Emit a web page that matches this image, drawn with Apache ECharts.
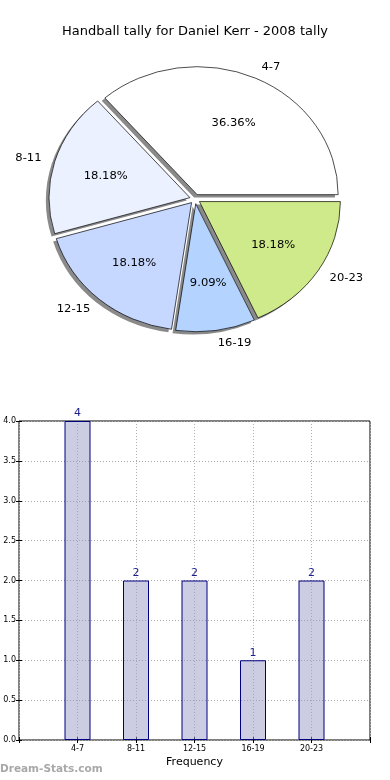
<!DOCTYPE html>
<html>
<head>
<meta charset="utf-8">
<script src="https://cdn.jsdelivr.net/npm/echarts@6/dist/echarts.min.js"></script>
<style>
html,body{margin:0;padding:0;background:#fff;}
#wrap{position:relative;width:390px;height:780px;}
#c{position:absolute;left:0;top:0;width:390px;height:780px;}
#p{position:absolute;left:0;top:0;width:390px;height:400px;transform-origin:195px 199px;transform:scale(1.052,0.955);pointer-events:none;}
</style>
</head>
<body>
<div id="wrap"><div id="c"></div><div id="p"></div></div>
<script>
const titleText = 'Handball tally for Daniel Kerr - 2008 tally';
const categories = ['4-7', '8-11', '12-15', '16-19', '20-23'];
const values = [4, 2, 2, 1, 2];
const pieColors = ['#ffffff', '#ebf1ff', '#c6d8ff', '#b4d4ff', '#cfea8a'];
const yTicks = [0, 0.5, 1, 1.5, 2, 2.5, 3, 3.5, 4];

const FONT = 'DejaVu Sans';
const chart = echarts.init(document.getElementById('c'));
const pieChart = echarts.init(document.getElementById('p'), null, { renderer: 'svg' });

const total = values.reduce((a, b) => a + b, 0);
const R = 134;
const center = [195, 199];
const OFF = 5;

const mk = (withColor) => categories.map((c, i) => {
  const d = { name: c, value: values[i], selected: true };
  if (withColor) d.itemStyle = { color: pieColors[i] };
  return d;
});

const pieCommon = {
  type: 'pie', startAngle: 0, clockwise: false,
  selectedMode: 'multiple', selectedOffset: OFF,
  emphasis: { disabled: true }, silent: true
};

const pieOption = {
  animation: false,
  textStyle: { fontFamily: FONT },
  series: [Object.assign({}, pieCommon, {
    center: [center[0] - 3, center[1] + 3], radius: R,
    data: mk(false),
    itemStyle: { color: '#8a8a8a', borderWidth: 0 },
    label: { show: false }, labelLine: { show: false }
  }), Object.assign({}, pieCommon, {
    center: center, radius: R,
    data: mk(true),
    itemStyle: { borderColor: '#000', borderWidth: 0.7 },
    label: {
      show: true, position: 'outside', formatter: '{b}',
      fontFamily: FONT, fontSize: 11, color: '#000', distanceToLabelLine: 0
    },
    labelLine: { show: false, length: 13, length2: 0 }
  }), Object.assign({}, pieCommon, {
    center: center, radius: R * 1.2,
    data: mk(false),
    itemStyle: { color: 'rgba(0,0,0,0)', borderWidth: 0 },
    label: {
      show: true, position: 'inside',
      formatter: p => (p.value / total * 100).toFixed(2) + '%',
      fontFamily: FONT, fontSize: 11, color: '#000'
    },
    labelLine: { show: false }
  })]
};

const option = {
  animation: false,
  textStyle: { fontFamily: FONT },
  title: {
    text: titleText, left: 'center', top: 20,
    textStyle: { fontFamily: FONT, fontSize: 13, fontWeight: 'normal', color: '#000' }
  },
  graphic: [{
    type: 'text', left: 0, top: 764,
    style: { text: 'Dream-Stats.com', fill: '#a8a8a8', font: 'bold 10.5px "DejaVu Sans"' }
  }],
  grid: { left: 19, right: 20, top: 421, bottom: 40, show: true, borderColor: '#000', borderWidth: 1, backgroundColor: 'transparent' },
  xAxis: [{
    type: 'value', min: 0, max: 6, interval: 1,
    name: 'Frequency', nameLocation: 'middle', nameGap: 17,
    nameTextStyle: { fontFamily: FONT, fontSize: 11, color: '#000' },
    axisLine: { show: false },
    axisTick: { show: true, inside: true, length: 3, lineStyle: { color: '#000' } },
    axisLabel: {
      fontFamily: FONT, fontSize: 8, color: '#000', margin: 5,
      formatter: v => categories[v - 1] || ''
    },
    splitLine: { show: true, lineStyle: { type: [1, 2], color: '#b0b0b0' } }
  }, {
    type: 'value', min: 0, max: 6, interval: 1, position: 'top',
    axisLine: { show: false }, axisLabel: { show: false },
    axisTick: { show: true, inside: true, length: 3, lineStyle: { color: '#000' } },
    splitLine: { show: false }
  }],
  yAxis: [{
    type: 'value', min: 0, max: 4, interval: 0.5,
    axisLine: { show: false },
    axisTick: { show: true, inside: true, length: 3, lineStyle: { color: '#000' } },
    axisLabel: { fontFamily: FONT, fontSize: 8, color: '#000', margin: 3, formatter: v => v.toFixed(1) },
    splitLine: { show: true, lineStyle: { type: [1, 2], color: '#a8a8a8' } }
  }, {
    type: 'value', min: 0, max: 4, interval: 0.5, position: 'right',
    axisLine: { show: false }, axisLabel: { show: false },
    axisTick: { show: true, inside: true, length: 3, lineStyle: { color: '#000' } },
    splitLine: { show: false }
  }],
  series: [{
    type: 'bar', xAxisIndex: 0, yAxisIndex: 0,
    data: values.map((v, i) => [i + 1, v]),
    barWidth: 26,
    itemStyle: { color: 'rgba(153,153,199,0.5)', borderColor: '#000080', borderWidth: 1 },
    label: { show: true, position: 'top', distance: 2, fontFamily: FONT, fontSize: 11, color: '#1e1e8c', formatter: p => p.value[1] }
  }]
};
chart.setOption(option);
pieChart.setOption(pieOption);
</script>
</body>
</html>
